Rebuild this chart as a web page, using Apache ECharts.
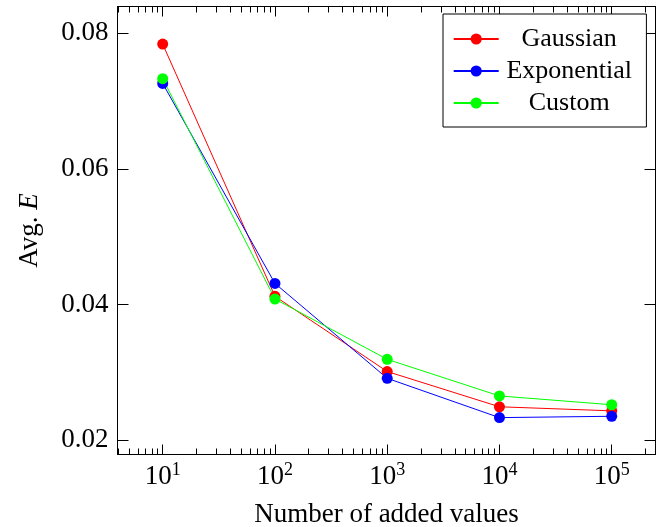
<!DOCTYPE html>
<html>
<head>
<meta charset="utf-8">
<script src="https://cdn.jsdelivr.net/npm/echarts@6.0.0/dist/echarts.min.js"></script>
<style>
  html, body { margin: 0; padding: 0; background: #fff; }
  #chart { width: 657px; height: 527px; }
</style>
</head>
<body>
<div id="chart"></div>
<script>
// number of added values (x, log scale)
const addedValues = [10, 100, 1000, 10000, 100000]
const gaussian = [0.0784, 0.0412, 0.0301, 0.0249, 0.0243]
const exponential = [0.0726, 0.0431, 0.0291, 0.0233, 0.0235]
const custom = [0.0733, 0.0408, 0.0319, 0.0265, 0.0252]

const xTicks = [10, 100, 1000, 10000, 100000]
const xTickExps = ['1', '2', '3', '4', '5']
const yTicks = [0.02, 0.04, 0.06, 0.08]
const yTickLabels = ['0.02', '0.04', '0.06', '0.08']

const xMin = 3.957
const xMax = 245500
const yMin = 0.01786
const yMax = 0.08395

// minor log ticks 2..9 within each decade
const xMinorTicks = []
;[1, 10, 100, 1000, 10000, 100000].forEach(d => {
  for (let m = 2; m <= 9; m++) {
    const v = m * d
    if (v > xMin && v < xMax) xMinorTicks.push(v)
  }
})

const FONT = '"Liberation Serif", "DejaVu Serif", serif'
const chart = echarts.init(document.getElementById('chart'))

const baseX = {
  type: 'log',
  logBase: 10,
  min: xMin,
  max: xMax,
  splitLine: { show: false },
  axisLine: { show: true, lineStyle: { color: '#000', width: 1 } },
  axisLabel: { show: false },
}

const xAxes = [
  {
    ...baseX,
    position: 'bottom',
    name: 'Number of added values',
    nameLocation: 'middle',
    nameGap: 47,
    nameTextStyle: { fontFamily: FONT, fontSize: 27, color: '#000' },
    axisTick: { show: true, inside: true, length: 10, customValues: xTicks, lineStyle: { color: '#000' } },
    axisLabel: {
      show: true,
      customValues: xTicks,
      margin: 7,
      fontFamily: FONT,
      fontSize: 27,
      color: '#000',
      formatter: (v) => '10{sup|' + xTickExps[xTicks.indexOf(v)] + '}',
      rich: {
        sup: { fontFamily: FONT, fontSize: 18, color: '#000', padding: [0, 0, 13, 0] }
      }
    }
  },
  {
    ...baseX,
    position: 'bottom',
    axisLine: { show: false },
    axisTick: { show: true, inside: true, length: 6, customValues: xMinorTicks, lineStyle: { color: '#000' } },
  },
  {
    ...baseX,
    position: 'top',
    axisTick: { show: true, inside: true, length: 10, customValues: xTicks, lineStyle: { color: '#000' } },
  },
  {
    ...baseX,
    position: 'top',
    axisLine: { show: false },
    axisTick: { show: true, inside: true, length: 6, customValues: xMinorTicks, lineStyle: { color: '#000' } },
  }
]

const baseY = {
  type: 'value',
  min: yMin,
  max: yMax,
  splitLine: { show: false },
  axisLine: { show: true, lineStyle: { color: '#000', width: 1 } },
  axisTick: { show: true, inside: true, length: 11, customValues: yTicks, lineStyle: { color: '#000' } },
}

const yAxes = [
  {
    ...baseY,
    position: 'left',
    name: 'Avg. {i|E}',
    nameLocation: 'middle',
    nameRotate: 90,
    nameGap: 74,
    nameTextStyle: {
      fontFamily: FONT, fontSize: 27, color: '#000',
      rich: { i: { fontFamily: FONT, fontSize: 27, fontStyle: 'italic', color: '#000' } }
    },
    axisLabel: {
      show: true,
      customValues: yTicks,
      margin: 9,
      fontFamily: FONT,
      fontSize: 27,
      color: '#000',
      formatter: (v) => yTickLabels[yTicks.indexOf(v)]
    }
  },
  {
    ...baseY,
    position: 'right',
    axisLabel: { show: false }
  }
]

const makeSeries = (name, values, color) => ({
  name,
  type: 'line',
  xAxisIndex: 0,
  yAxisIndex: 0,
  data: addedValues.map((x, i) => [x, values[i]]),
  symbol: 'circle',
  symbolSize: 11,
  lineStyle: { color, width: 1 },
  itemStyle: { color },
  emphasis: { disabled: true }
})

const option = {
  animation: false,
  backgroundColor: '#fff',
  grid: {
    left: 117.5,
    right: 1.5,
    top: 6.5,
    bottom: 72.5,
    containLabel: false,
    outerBoundsMode: 'none'
  },
  legend: {
    orient: 'vertical',
    left: 443,
    top: 14,
    padding: [12, 11.7, 11, 9.7],
    itemGap: 6,
    itemWidth: 45,
    itemHeight: 14,
    borderColor: '#000',
    borderWidth: 1,
    backgroundColor: '#fff',
    z: 10,
    formatter: (name) => '{t|' + name + '}',
    textStyle: {
      rich: {
        t: { fontFamily: FONT, fontSize: 26, color: '#000', width: 131, align: 'center', lineHeight: 26 }
      }
    },
    data: ['Gaussian', 'Exponential', 'Custom']
  },
  xAxis: xAxes,
  yAxis: yAxes,
  series: [
    makeSeries('Gaussian', gaussian, '#ff0000'),
    makeSeries('Exponential', exponential, '#0000ff'),
    makeSeries('Custom', custom, '#00ff00')
  ]
}

chart.setOption(option)
</script>
</body>
</html>
